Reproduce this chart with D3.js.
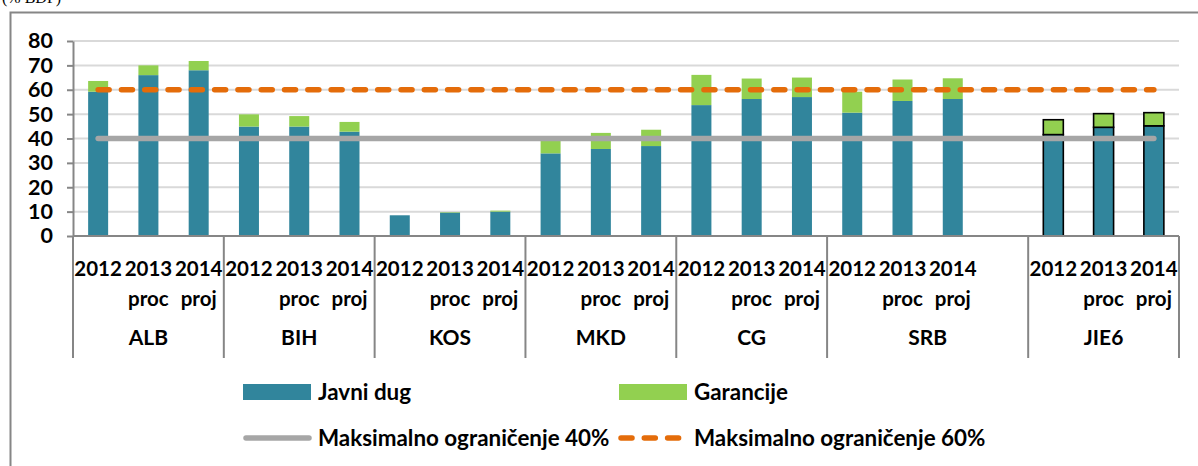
<!DOCTYPE html>
<html>
<head>
<meta charset="utf-8">
<script src="https://cdn.jsdelivr.net/npm/d3@7"></script>
<style>
  body { margin: 0; background: #fff; }
  svg { display: block; font-family: Lato, 'Open Sans', sans-serif; }
</style>
</head>
<body>
<svg id="chart" width="1198" height="466"></svg>
<script>
// data (% BDP)
const groups = ['ALB', 'BIH', 'KOS', 'MKD', 'CG', 'SRB', 'JIE6'];
const years = ['2012', '2013 proc', '2014 proj'];
const javniDug = [
  59.2, 66.0, 68.0,   // ALB
  44.9, 44.9, 42.8,   // BIH
  8.5, 9.6, 10.0,     // KOS
  33.9, 35.7, 36.9,   // MKD
  53.7, 56.2, 57.0,   // CG
  50.6, 55.4, 56.2,   // SRB
  41.6, 44.6, 45.2    // JIE6
];
const garancije = [
  4.4, 4.0, 3.8,
  5.0, 4.3, 4.0,
  0.0, 0.2, 0.4,
  5.6, 6.6, 6.7,
  12.4, 8.4, 8.0,
  8.6, 8.8, 8.5,
  6.1, 5.6, 5.4
];
const emptyAfter = ['SRB'];   // empty category after this group
const limit40 = 40;
const limit60 = 60;
const yTicks = [0, 10, 20, 30, 40, 50, 60, 70, 80];
const legendNames = ['Javni dug', 'Garancije', 'Maksimalno ograničenje 40%', 'Maksimalno ograničenje 60%'];

const colBlue = '#31859c', colGreen = '#92d050', colGrey = '#a6a6a6', colOrange = '#e46c0a';

// build category slots
let slots = [];
groups.forEach((g, gi) => {
  years.forEach((yr, yi) => {
    const i = gi * years.length + yi;
    slots.push({ key: g + '|' + yr, group: g, year: yr, javni: javniDug[i], gar: garancije[i] });
  });
  if (emptyAfter.includes(g)) slots.push({ key: g + '|empty', group: g, year: '', javni: null, gar: null });
});

const svg = d3.select('#chart');
const plotL = 73, plotR = 1179, plotT = 41, plotB = 236;

const x = d3.scaleBand().domain(slots.map(d => d.key)).range([plotL, plotR]).padding(0);
const y = d3.scaleLinear().domain([0, 80]).range([plotB, plotT]);
const barW = 20;

// outer frame + title (cut at the top edge, as in the source)
svg.append('text').attr('x', 2).attr('y', 3)
  .style('font-family', "'Liberation Serif', serif").style('font-size', '16px').text('(% BDP)');
svg.append('path').attr('d', 'M10.5,468V12.5H1200')
  .attr('fill', 'none').attr('stroke', '#868686').attr('stroke-width', 2);

// gridlines
svg.append('g').selectAll('line').data(yTicks.filter(t => t > 0)).enter().append('line')
  .attr('x1', plotL).attr('x2', plotR)
  .attr('y1', d => y(d)).attr('y2', d => y(d))
  .attr('stroke', '#d9d9d9').attr('stroke-width', 2);

// y axis
const yAxis = svg.append('g').attr('transform', `translate(${plotL},0)`)
  .call(d3.axisLeft(y).tickValues(yTicks).tickSize(6).tickPadding(14).tickSizeOuter(0));
yAxis.select('.domain').attr('stroke', '#868686').attr('stroke-width', 2);
yAxis.selectAll('.tick line').attr('stroke', '#868686').attr('stroke-width', 2);
yAxis.selectAll('.tick text').style('font-family', 'Lato').style('font-size', '21.5px')
  .style('font-weight', 700).attr('fill', '#000');

// stacked bars
const stack = d3.stack().keys(['javni', 'gar'])(slots.filter(d => d.javni !== null));
const colors = [colBlue, colGreen];
stack.forEach((layer, li) => {
  svg.append('g').selectAll('rect').data(layer).enter().append('rect')
    .attr('x', d => x(d.data.key) + x.bandwidth() / 2 - barW / 2)
    .attr('width', barW)
    .attr('y', d => y(d[1]))
    .attr('height', d => y(d[0]) - y(d[1]))
    .attr('fill', colors[li])
    .attr('stroke', d => d.data.group === 'JIE6' ? '#000' : 'none')
    .attr('stroke-width', 1.6);
});

// limit lines
const lineGen = v => d3.line().x(d => x(d.key) + x.bandwidth() / 2).y(() => y(v))(slots);
svg.append('path').attr('d', lineGen(limit40)).attr('fill', 'none')
  .attr('stroke', colGrey).attr('stroke-width', 5.5).attr('stroke-linecap', 'round');
svg.append('path').attr('d', lineGen(limit60)).attr('fill', 'none')
  .attr('stroke', colOrange).attr('stroke-width', 5.5).attr('stroke-linecap', 'round')
  .attr('stroke-dasharray', '11 12.3');

// category axis
const cat = svg.append('g');
cat.append('line').attr('x1', plotL).attr('x2', plotR).attr('y1', plotB).attr('y2', plotB)
  .attr('stroke', '#868686').attr('stroke-width', 2);
const groupEdges = [plotL];
groups.forEach(g => {
  const last = slots.filter(s => s.group === g).slice(-1)[0];
  groupEdges.push(x(last.key) + x.bandwidth());
});
cat.selectAll('.sep').data(groupEdges).enter().append('line')
  .attr('x1', d => d).attr('x2', d => d).attr('y1', plotB).attr('y2', 358)
  .attr('stroke', '#868686').attr('stroke-width', 2);

const lab = cat.selectAll('.yl').data(slots.filter(s => s.year)).enter().append('text')
  .attr('text-anchor', 'middle').style('font-size', '20.5px').style('font-weight', 700);
lab.each(function (d) {
  const parts = d.year.split(' ');
  const t = d3.select(this);
  parts.forEach((p, i) => {
    t.append('tspan').attr('x', x(d.key) + x.bandwidth() / 2).attr('y', 276 + i * 30).text(p);
  });
});
cat.selectAll('.gl').data(groups).enter().append('text')
  .attr('x', (g, i) => (groupEdges[i] + groupEdges[i + 1]) / 2).attr('y', 345)
  .attr('text-anchor', 'middle').style('font-size', '21px').style('font-weight', 700).text(g => g);

// legend
const leg = svg.append('g').style('font-size', '22.4px').style('font-weight', 700);
const legPos = [[243, 392], [619, 392], [243, 438], [619, 438]];
leg.append('rect').attr('x', legPos[0][0]).attr('y', legPos[0][1] - 8).attr('width', 68).attr('height', 16).attr('fill', colBlue);
leg.append('rect').attr('x', legPos[1][0]).attr('y', legPos[1][1] - 8).attr('width', 68).attr('height', 16).attr('fill', colGreen);
leg.append('line').attr('x1', legPos[2][0] + 3).attr('x2', legPos[2][0] + 66).attr('y1', legPos[2][1]).attr('y2', legPos[2][1])
  .attr('stroke', colGrey).attr('stroke-width', 5.5).attr('stroke-linecap', 'round');
leg.append('line').attr('x1', legPos[3][0] + 2).attr('x2', legPos[3][0] + 62).attr('y1', legPos[3][1]).attr('y2', legPos[3][1])
  .attr('stroke', colOrange).attr('stroke-width', 5.5).attr('stroke-linecap', 'round').attr('stroke-dasharray', '11 12.3');
legendNames.forEach((n, i) => {
  leg.append('text').attr('x', legPos[i][0] + 75).attr('y', legPos[i][1] + 8).text(n);
});
</script>
</body>
</html>
